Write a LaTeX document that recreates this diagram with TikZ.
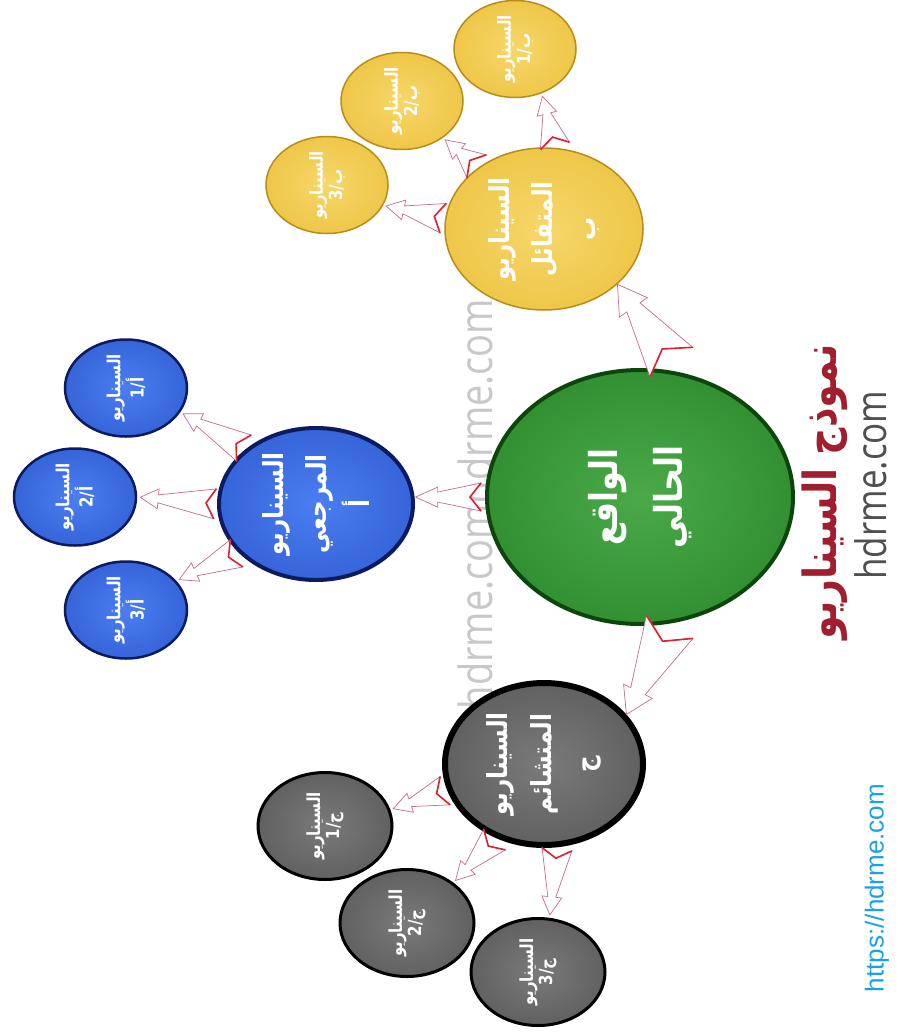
\documentclass[tikz,border=0pt]{standalone}
\usepackage{fontspec}
\usetikzlibrary{shapes.geometric,calc}
\TeXXeTstate=1
\newfontfamily\arabicfont[Script=Arabic]{DejaVu Sans}
\newfontfamily\wmfont{Open Sans}
\newfontfamily\urlfont{Liberation Sans}
\definecolor{gA}{HTML}{4AAA48}\definecolor{gB}{HTML}{2F8D2F}\definecolor{gC}{HTML}{1C6C1C}\definecolor{gD}{HTML}{0D460D}
\definecolor{bA}{HTML}{4A7EF2}\definecolor{bB}{HTML}{3461D6}\definecolor{bC}{HTML}{1F3FA6}\definecolor{bD}{HTML}{0C1A60}
\definecolor{yA}{HTML}{F6D76A}\definecolor{yB}{HTML}{EEC545}\definecolor{yC}{HTML}{D9A928}\definecolor{yD}{HTML}{B88C18}
\definecolor{kA}{HTML}{7A7A7A}\definecolor{kB}{HTML}{5E5E5E}\definecolor{kC}{HTML}{404040}\definecolor{kD}{HTML}{181818}
\definecolor{arrowline}{HTML}{C46C8C}
\definecolor{arrowred}{HTML}{E02030}
\definecolor{titlered}{HTML}{A01E2E}
\definecolor{sitegray}{HTML}{505050}
\definecolor{wmgray}{HTML}{C8C8C8}
\definecolor{urlblue}{HTML}{1BA1E6}
\pgfdeclareradialshading{greenball}{\pgfpoint{0bp}{0bp}}{color(0bp)=(gA); color(28bp)=(gB); color(44bp)=(gC); color(50bp)=(gD); color(70bp)=(gD)}
\pgfdeclareradialshading{blueball}{\pgfpoint{0bp}{0bp}}{color(0bp)=(bA); color(28bp)=(bB); color(44bp)=(bC); color(50bp)=(bD); color(70bp)=(bD)}
\pgfdeclareradialshading{yellowball}{\pgfpoint{0bp}{0bp}}{color(0bp)=(yA); color(28bp)=(yB); color(44bp)=(yC); color(50bp)=(yD); color(70bp)=(yD)}
\pgfdeclareradialshading{grayball}{\pgfpoint{0bp}{0bp}}{color(0bp)=(kA); color(28bp)=(kB); color(44bp)=(kC); color(50bp)=(kD); color(70bp)=(kD)}
\tikzset{
  bubble/.style={ellipse, inner sep=0pt},
  greenbub/.style={bubble, shade, shading=greenball, draw=gD, line width=4pt},
  bluebub/.style={bubble, shade, shading=blueball, draw=bD, line width=#1},
  yellowbub/.style={bubble, shade, shading=yellowball, draw=yD, line width=1.5pt},
  graybub/.style={bubble, shade, shading=grayball, draw=black, line width=#1},
  bigsize/.style={minimum width=198pt, minimum height=162pt},
  smallsize/.style={minimum width=122pt, minimum height=97pt},
  graysmallsize/.style={minimum width=134pt, minimum height=107pt},
  bubtext/.style={rotate=90, yscale=1.2, text=white, align=center, inner sep=0pt},
  hugetext/.style={bubtext, font=\arabicfont\bfseries\fontsize{32}{54}\selectfont},
  bigtext/.style={bubtext, font=\arabicfont\bfseries\fontsize{23}{36}\selectfont},
  smalltext/.style={bubtext, font=\arabicfont\bfseries\fontsize{15}{16}\selectfont},
  arrowbody/.style={fill=white, draw=arrowline, line width=0.7pt, line join=miter},
  arrowtail/.style={draw=arrowred, line width=1.6pt, line join=miter},
}
% from, to, start gap, end gap, tail half width, shaft half width, head half width, head length, notch depth
\newcommand\blockarrow[9]{%
  \path ($(#1)!#3!(#2)$) coordinate (ba-s) ($(#2)!#4!(#1)$) coordinate (ba-e);
  \path ($(ba-e)!#8!(ba-s)$) coordinate (ba-h) ($(ba-s)!#9!(ba-e)$) coordinate (ba-n);
  \draw[arrowbody] ($(ba-s)!#5!90:(ba-e)$) -- (ba-n) -- ($(ba-s)!#5!-90:(ba-e)$)
     -- ($(ba-h)!#6!-90:(ba-e)$) -- ($(ba-h)!#7!-90:(ba-e)$) -- (ba-e)
     -- ($(ba-h)!#7!90:(ba-e)$) -- ($(ba-h)!#6!90:(ba-e)$) -- cycle;
  \draw[arrowtail] ($(ba-s)!#5!90:(ba-e)$) -- (ba-n) -- ($(ba-s)!#5!-90:(ba-e)$);
}
\newcommand\smallarrow[2]{\blockarrow{#1}{#2}{2pt}{3pt}{15pt}{4pt}{10pt}{18pt}{9pt}}
\begin{document}
\begin{tikzpicture}[x=1pt,y=-1pt]
\useasboundingbox[fill=white] (0,0) rectangle (899,1033);
% watermark
\node[rotate=90, yscale=1.2, text=wmgray, font=\wmfont\fontsize{38}{40}\selectfont, inner sep=0pt] (wm) at (475,504) {hdrme.comhdrme.com};
% bubbles
\node[greenbub, minimum width=306pt, minimum height=254pt] (g) at (640,497) {};
\node[bluebub=4pt, minimum width=194pt, minimum height=152pt] (bb) at (316,504) {};
\node[bluebub=2.5pt, smallsize] (b1) at (126,388) {};
\node[bluebub=2.5pt, smallsize] (b2) at (75,497) {};
\node[bluebub=2.5pt, smallsize] (b3) at (126,610) {};
\node[yellowbub, bigsize] (yb) at (544,229) {};
\node[yellowbub, smallsize] (y1) at (515,49) {};
\node[yellowbub, smallsize] (y2) at (402,101) {};
\node[yellowbub, smallsize] (y3) at (327,185) {};
\node[graybub=6pt, bigsize] (kb) at (544,764) {};
\node[graybub=3pt, graysmallsize] (k1) at (325,826) {};
\node[graybub=3pt, graysmallsize] (k2) at (407,923) {};
\node[graybub=3pt, graysmallsize] (k3) at (538,972) {};
% texts
\node[hugetext] (g-t) at (g) {\beginR الواقع\endR\\\beginR الحالي\endR};
\node[bigtext] (bb-t) at (bb) {\beginR السيناريو\endR\\\beginR المرجعي\endR\\\beginR أ\endR};
\node[bigtext] (yb-t) at (yb) {\beginR السيناريو\endR\\\beginR المتفائل\endR\\\beginR ب\endR};
\node[bigtext] (kb-t) at (kb) {\beginR السيناريو\endR\\\beginR المتشائم\endR\\\beginR ج\endR};
\node[smalltext] (b1-t) at (b1) {\beginR السيناريو\endR\\\beginR أ/1\endR};
\node[smalltext] (b2-t) at (b2) {\beginR السيناريو\endR\\\beginR أ/2\endR};
\node[smalltext] (b3-t) at (b3) {\beginR السيناريو\endR\\\beginR أ/3\endR};
\node[smalltext] (y1-t) at (y1) {\beginR السيناريو\endR\\\beginR ب/1\endR};
\node[smalltext] (y2-t) at (y2) {\beginR السيناريو\endR\\\beginR ب/2\endR};
\node[smalltext] (y3-t) at (y3) {\beginR السيناريو\endR\\\beginR ب/3\endR};
\node[smalltext] (k1-t) at (k1) {\beginR السيناريو\endR\\\beginR ج/1\endR};
\node[smalltext] (k2-t) at (k2) {\beginR السيناريو\endR\\\beginR ج/2\endR};
\node[smalltext] (k3-t) at (k3) {\beginR السيناريو\endR\\\beginR ج/3\endR};
% arrows
\blockarrow{g.73}{yb.-37}{12pt}{0pt}{26pt}{8pt}{17pt}{28pt}{16pt}
\blockarrow{g.-76}{kb.31}{4pt}{0pt}{26pt}{8pt}{16pt}{26pt}{16pt}
\blockarrow{g.180}{bb.4}{4pt}{1pt}{14pt}{5pt}{10pt}{22pt}{11pt}
\smallarrow{bb.142}{b1.-24}
\smallarrow{bb.180}{b2.0}
\smallarrow{bb.-148}{b3.30}
\smallarrow{yb.82}{y1.-59}
\smallarrow{yb.137}{y2.-42}
\smallarrow{yb.174}{y3.-20}
\smallarrow{kb.-165}{k1.14}
\smallarrow{kb.-123}{k2.41}
\smallarrow{kb.-81}{k3.78}
% title
\node[rotate=90, yscale=1.2, text=titlered, font=\arabicfont\bfseries\fontsize{38}{42}\selectfont, inner sep=0pt] (title) at (825,492) {\beginR نموذج السيناريو\endR};
\node[rotate=90, yscale=1.2, text=sitegray, font=\wmfont\fontsize{35}{37}\selectfont, inner sep=0pt] (site) at (871,485) {hdrme.com};
\node[rotate=90, text=urlblue, font=\urlfont\fontsize{26}{28}\selectfont, inner sep=0pt] (url) at (877,888) {https://hdrme.com};
\end{tikzpicture}
\end{document}
